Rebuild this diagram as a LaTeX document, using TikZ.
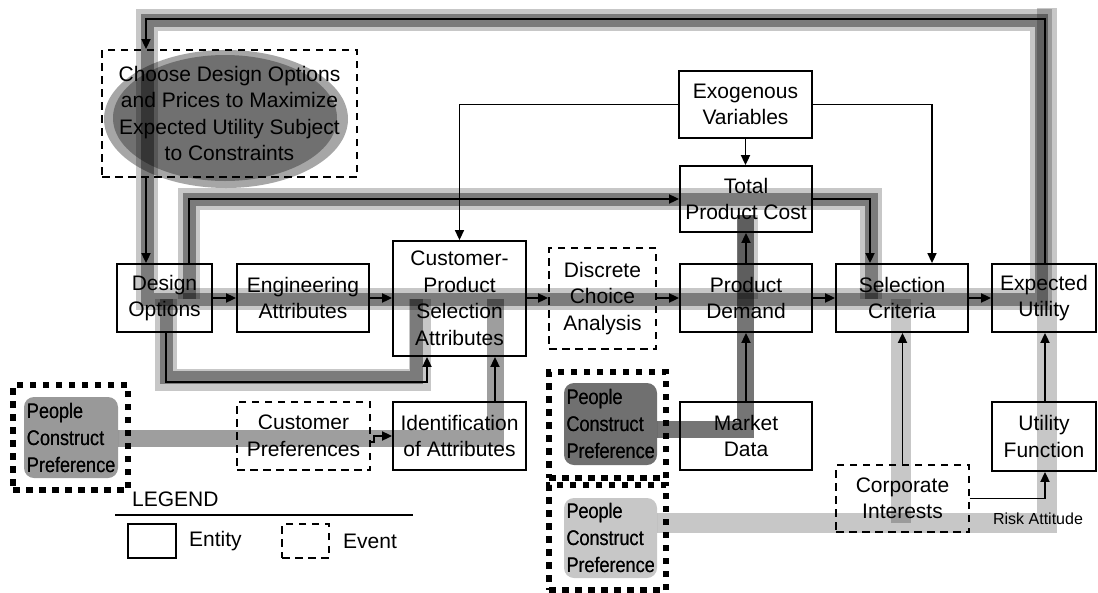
\documentclass[tikz,border=0pt]{standalone}
\usepackage{fontspec}
\setmainfont{Liberation Sans}
\newfontfamily\pcpfont[FakeStretch=0.86]{Liberation Sans}
\usetikzlibrary{arrows.meta}
\newcommand\mfs{\fontsize{21}{26.5}\selectfont}
\tikzset{
  box/.style={draw, line width=1.8pt, align=center, inner sep=0pt, font=\mfs},
  evbox/.style={box, dash pattern=on 7.5pt off 5.5pt},
  pcpframe/.style={draw, line width=5.5pt, dash pattern=on 6.5pt off 6.5pt, inner sep=0pt},
  pcpin/.style={rounded corners=10pt, inner sep=0pt, align=left, text width=88pt,
     font={\pcpfont\fontsize{21}{27}\selectfont}},
  arr/.style={line width=1.8pt, -{Triangle[length=10pt,width=9pt]}},
  thinarr/.style={line width=1.5pt, -{Triangle[length=10pt,width=9pt]}},
  bandL/.style={line width=22pt, draw=black, draw opacity=0.22, line join=miter},
  bandD/.style={line width=13pt, draw=black, draw opacity=0.38, line join=miter},
  bandPa/.style={line width=17pt, draw=black, draw opacity=0.38, line join=miter},
  bandPb/.style={line width=17pt, draw=black, draw opacity=0.54, line join=miter},
  bandPc/.style={line width=20pt, draw=black, draw opacity=0.22, line join=miter},
}
\begin{document}
\begin{tikzpicture}[x=1pt,y=-1pt]
\useasboundingbox (0,0) rectangle (1098,592);

% ellipse behind the choose text
\fill[black!35] (226,119) ellipse [x radius=122pt, y radius=69pt];
\fill[black!56] (225,118) ellipse [x radius=112pt, y radius=63pt];

% PCP inner filled shapes
\node[pcpin, fill=black!40, minimum width=94pt, minimum height=81pt] (pcp1) at (71,437.5) {People\\Construct\\Preference};
\node[pcpin, fill=black!56, minimum width=93pt, minimum height=82pt] (pcp2) at (610.5,424) {People\\Construct\\Preference};
\node[pcpin, fill=black!22, minimum width=93pt, minimum height=80pt] (pcp3) at (610.5,538) {People\\Construct\\Preference};

% bands
\draw[bandL] (147,20) rectangle (1041,299);
\draw[bandD] (147,20) rectangle (1041,299);
\draw[bandL] (189,299) -- (189,199) -- (871,199) -- (871,299);
\draw[bandD] (189,299) -- (189,199) -- (871,199) -- (871,299);
\draw[bandL] (166,299) -- (166,380) -- (420,380) -- (420,299);
\draw[bandD] (166,299) -- (166,377) -- (416,377) -- (416,299);
\draw[bandPa] (118,438) -- (495,438) -- (495,299);
\draw[bandPb] (657,429) -- (745,429) -- (745,215);
\draw[line width=20pt, draw=black, draw opacity=0.2] (748,299) -- (748,215);
\draw[bandPc] (657,523) -- (1047,523) -- (1047,8);
\draw[bandPc] (901,523) -- (901,299);

% re-draw PCP texts on top
\node[pcpin, minimum width=94pt, minimum height=81pt] at (71,437.5) {People\\Construct\\Preference};
\node[pcpin, minimum width=93pt, minimum height=82pt] at (610.5,424) {People\\Construct\\Preference};
\node[pcpin, minimum width=93pt, minimum height=80pt] at (610.5,538) {People\\Construct\\Preference};

% PCP dotted frames
\node[pcpframe, minimum width=115pt, minimum height=105pt] (pcp1f) at (70.5,437.5) {};
\node[pcpframe, minimum width=117pt, minimum height=106pt] (pcp2f) at (607.5,425) {};
\node[pcpframe, minimum width=117pt, minimum height=105pt] (pcp3f) at (607.5,537.5) {};

% nodes
\node[evbox, minimum width=255pt, minimum height=127pt] (choose) at (229.5,113.5)
  {Choose Design Options\\and Prices to Maximize\\Expected Utility Subject\\to Constraints};
\node[box, minimum width=95pt, minimum height=68pt] (do) at (164.5,298) {Design\\Options};
\node[box, minimum width=132pt, minimum height=68pt] (ea) at (303,298) {Engineering\\Attributes};
\node[box, minimum width=133pt, minimum height=115pt] (cpsa) at (459.5,298.5) {Customer-\\Product\\Selection\\Attributes};
\node[evbox, minimum width=107pt, minimum height=101pt] (dca) at (602.5,298.5) {Discrete\\Choice\\Analysis};
\node[box, minimum width=132pt, minimum height=68pt] (pd) at (746,298) {Product\\Demand};
\node[box, minimum width=132pt, minimum height=68pt] (sc) at (902,298) {Selection\\Criteria};
\node[box, minimum width=104pt, minimum height=68pt] (eu) at (1044,298) {Expected\\Utility};
\node[box, minimum width=133pt, minimum height=67pt] (exo) at (745.5,104.5) {Exogenous\\Variables};
\node[box, minimum width=132pt, minimum height=66pt] (tpc) at (746,199) {Total\\Product Cost};
\node[evbox, minimum width=133pt, minimum height=68pt] (cp) at (303.5,436) {Customer\\Preferences};
\node[box, minimum width=133pt, minimum height=68pt] (ia) at (459.5,436) {Identification\\of Attributes};
\node[box, minimum width=132pt, minimum height=68pt] (md) at (746,436) {Market\\Data};
\node[box, minimum width=104pt, minimum height=69pt] (uf) at (1044,436.5) {Utility\\Function};
\node[evbox, minimum width=133pt, minimum height=67pt] (ci) at (902.5,498.5) {Corporate\\Interests};
\node[font=\fontsize{16}{19}\selectfont, inner sep=0pt] (risk) at (1038,519) {Risk Attitude};

% legend
\node[font=\mfs, anchor=base west, inner sep=0pt] (lgtitle) at (132,506) {LEGEND};
\coordinate (lgl) at (115,515);
\coordinate (lgr) at (413,515);
\draw[line width=1.8pt] (lgl) -- (lgr);
\node[draw, line width=1.8pt, minimum width=48pt, minimum height=34pt, inner sep=0pt] (lgent) at (152,541) {};
\node[font=\mfs, anchor=west, inner sep=0pt] (lgentt) at (189,541) {Entity};
\node[draw, line width=1.8pt, dash pattern=on 7.5pt off 5.5pt, minimum width=47pt, minimum height=34pt, inner sep=0pt] (lgev) at (305.5,541) {};
\node[font=\mfs, anchor=west, inner sep=0pt] (lgevt) at (343,541) {Event};

% connectors
\draw[arr] (do) -- (ea);
\draw[arr] (ea) -- (ea -| cpsa.west);
\draw[arr] (cpsa.east |- ea) -- (ea -| dca.west);
\draw[arr] (dca.east |- pd) -- (pd);
\draw[arr] (pd) -- (sc);
\draw[arr] (sc) -- (eu);
\draw[arr] ([xshift=1pt]eu.north) -- ++(0,-244) -| ([xshift=-83.5pt]choose.north);
\draw[arr] ([xshift=-83.5pt]choose.south) -- ([xshift=-18.5pt]do.north);
\draw[arr] ([xshift=24.5pt]do.north) |- (tpc.west);
\draw[arr] (tpc.east) -| ([xshift=-32pt]sc.north);
\draw[thinarr] (exo.west) -| (cpsa.north);
\draw[thinarr] (exo.east) -| ([xshift=30pt]sc.north);
\draw[arr] (exo.south) -- (exo.south |- tpc.north);
\draw[arr] (pd.north) -- (tpc.south);
\draw[arr] (md.north) -- (pd.south);
\draw[arr] ([xshift=1.5pt]do.south) -- ++(0,49) -| ([xshift=-32.5pt]cpsa.south);
\draw[arr] ([xshift=35.5pt]ia.north) -- ([xshift=35.5pt]cpsa.south);
\draw[arr] ([yshift=-6pt]cp.east) -- ++(3,0) |- (ia.west);
\draw[arr] (ci.north) -- (ci.north |- sc.south);
\draw[arr] (ci.east) -| ([xshift=1pt]uf.south);
\draw[arr] ([xshift=1pt]uf.north) -- ([xshift=1pt]eu.south);
\end{tikzpicture}
\end{document}
